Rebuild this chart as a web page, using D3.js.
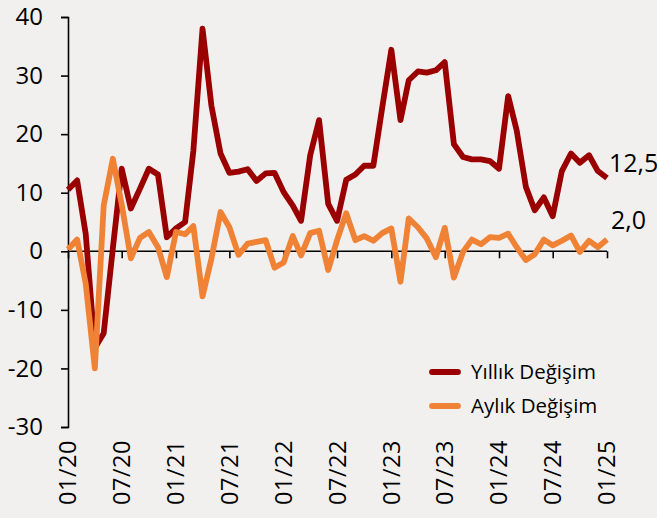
<!DOCTYPE html>
<html>
<head>
<meta charset="utf-8">
<script src="https://cdn.jsdelivr.net/npm/d3@7"></script>
<style>
  body { margin: 0; background: #f2f0ef; }
  svg { display: block; }
  text { font-family: "Open Sans", sans-serif; fill: #000; }
</style>
</head>
<body>
<svg id="chart" width="657" height="518"></svg>
<script>
// monthly points, 01/2020 .. 01/2025
const startMonth = new Date(2020, 0, 1);
const endMonth = new Date(2025, 0, 1);
const months = d3.timeMonth.range(startMonth, d3.timeMonth.offset(endMonth, 1));

const yillik = [
  10.5, 12.1, 3.0, -16.5, -14.0, 0.5, 14.1, 7.3, 10.7, 14.1, 13.1, 2.4,
  3.9, 5.0, 17.2, 38.0, 24.9, 16.7, 13.4, 13.6, 14.0, 12.0, 13.3, 13.4,
  10.1, 7.8, 5.2, 16.4, 22.4, 8.1, 5.2, 12.2, 13.1, 14.6, 14.6, 24.5,
  34.4, 22.4, 29.2, 30.7, 30.5, 30.9, 32.3, 18.3, 16.1, 15.7, 15.7, 15.4,
  14.1, 26.5, 20.6, 11.0, 7.0, 9.2, 6.0, 13.7, 16.7, 15.1, 16.4, 13.7,
  12.5
];

const aylik = [
  0.3, 2.0, -5.5, -20.0, 7.8, 15.8, 8.0, -1.2, 2.3, 3.3, 0.7, -4.4,
  3.3, 2.9, 4.3, -7.7, -1.3, 6.7, 4.1, -0.6, 1.3, 1.6, 1.9, -2.8,
  -1.9, 2.6, -0.7, 3.1, 3.5, -3.2, 1.9, 6.5, 1.9, 2.6, 1.8, 3.1,
  3.9, -5.2, 5.6, 4.1, 2.2, -1.0, 4.0, -4.5, -0.1, 2.0, 1.2, 2.4,
  2.3, 3.0, 0.7, -1.5, -0.5, 2.0, 1.0, 1.8, 2.7, -0.1, 1.8, 0.7,
  2.0
];

const seriesNames = ['Yıllık Değişim', 'Aylık Değişim'];
const seriesColors = ['#9a0000', '#ef8235'];
const endLabels = ['12,5', '2,0'];
const yTicks = [-30, -20, -10, 0, 10, 20, 30, 40];

const svg = d3.select('#chart');

const x = d3.scaleTime().domain([startMonth, endMonth]).range([68, 607]);
const y = d3.scaleLinear().domain([-30, 40]).range([427, 17]);

// y axis (plain hyphen for negatives, like the source)
const yAxis = svg.append('g')
  .attr('transform', 'translate(68,0)')
  .call(d3.axisLeft(y).tickValues(yTicks).tickSize(7).tickPadding(18).tickFormat(d => String(d)));
yAxis.select('.domain').attr('stroke', '#000').attr('stroke-width', 1.6);
yAxis.selectAll('.tick line').attr('stroke', '#000').attr('stroke-width', 1.6);
yAxis.selectAll('.tick text')
  .style('font-family', '"Open Sans", sans-serif')
  .style('font-size', '24px')
  .attr('fill', '#000');

// x axis sits on zero line, labels go at the bottom
const xTicks = d3.timeMonth.every(6).range(startMonth, d3.timeMonth.offset(endMonth, 1));
const xAxis = svg.append('g')
  .attr('transform', 'translate(0,' + y(0) + ')')
  .call(d3.axisBottom(x).tickValues(xTicks).tickSize(7).tickFormat(''));
xAxis.select('.domain').attr('stroke', '#000').attr('stroke-width', 1.6).attr('d', 'M68,0H607');
xAxis.selectAll('.tick line').attr('stroke', '#000').attr('stroke-width', 1.6);

svg.append('g')
  .selectAll('text')
  .data(xTicks)
  .join('text')
  .attr('transform', d => 'translate(' + x(d) + ',440) rotate(-90)')
  .attr('dy', '0.36em')
  .attr('text-anchor', 'end')
  .style('font-size', '23.5px')
  .style('letter-spacing', '0.5px')
  .text(d => d3.timeFormat('%m/%y')(d));

// lines
const line = d3.line()
  .x((d, i) => x(months[i]))
  .y(d => y(d));

[yillik, aylik].forEach((vals, k) => {
  svg.append('path')
    .datum(vals)
    .attr('fill', 'none')
    .attr('stroke', seriesColors[k])
    .attr('stroke-width', 5.8)
    .attr('stroke-linejoin', 'round')
    .attr('d', line);
});

// end labels
svg.append('text')
  .attr('x', 609).attr('y', y(yillik[yillik.length - 1]) - 6)
  .style('font-size', '25px')
  .text(endLabels[0]);
svg.append('text')
  .attr('x', 611).attr('y', y(aylik[aylik.length - 1]) - 11)
  .style('font-size', '25px')
  .text(endLabels[1]);

// legend
const legend = svg.append('g').attr('transform', 'translate(432,372)');
seriesNames.forEach((name, k) => {
  const g = legend.append('g').attr('transform', 'translate(0,' + k * 34 + ')');
  g.append('line')
    .attr('x1', 0).attr('x2', 26)
    .attr('stroke', seriesColors[k])
    .attr('stroke-width', 5.8)
    .attr('stroke-linecap', 'round');
  g.append('text')
    .attr('x', 39).attr('dy', '0.35em')
    .style('font-size', '20.5px')
    .text(name);
});
</script>
</body>
</html>
